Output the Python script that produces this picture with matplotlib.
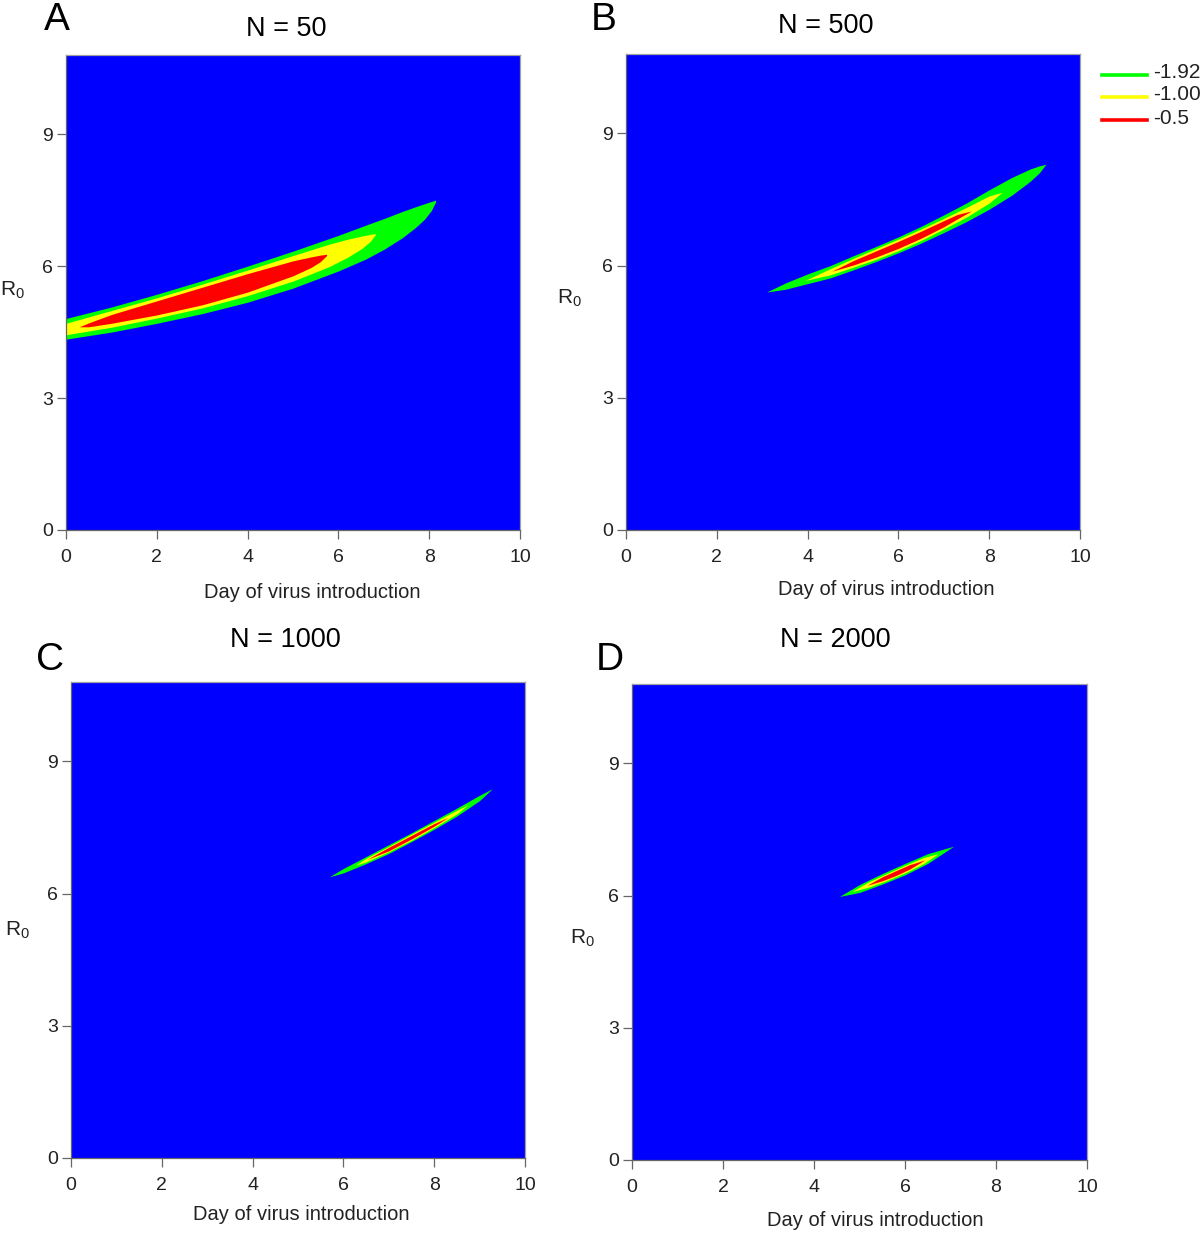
import numpy as np
import matplotlib
matplotlib.use('Agg')
import matplotlib.pyplot as plt
from matplotlib.lines import Line2D

plt.rcParams['font.family'] = ['Liberation Sans', 'DejaVu Sans']
plt.rcParams['mathtext.fontset'] = 'custom'
plt.rcParams['mathtext.rm'] = 'Liberation Sans'
plt.rcParams['mathtext.it'] = 'Liberation Sans'

# ---------------- data: contour regions ----------------
# Each region: day values and the upper / lower R0 boundary at those days.
# Panel A  (N = 50)
A_green_day   = [0.00, 1.00, 2.00, 3.00, 4.00, 5.00, 6.00, 6.60, 7.00, 7.40, 7.70, 7.90, 8.05, 8.14]
A_green_upper = [4.81, 5.07, 5.36, 5.67, 6.00, 6.34, 6.70, 6.93, 7.08, 7.24, 7.35, 7.42, 7.47, 7.50]
A_green_lower = [4.34, 4.50, 4.70, 4.92, 5.18, 5.50, 5.89, 6.16, 6.38, 6.64, 6.88, 7.07, 7.27, 7.46]
A_yellow_day   = [0.00, 1.00, 2.00, 3.00, 4.00, 5.00, 5.80, 6.20, 6.50, 6.70, 6.81]
A_yellow_upper = [4.70, 4.99, 5.28, 5.59, 5.91, 6.24, 6.50, 6.61, 6.68, 6.72, 6.74]
A_yellow_lower = [4.44, 4.61, 4.82, 5.05, 5.33, 5.66, 5.99, 6.20, 6.39, 6.56, 6.71]
A_red_day   = [0.29, 0.50, 1.00, 2.00, 3.00, 4.00, 5.00, 5.40, 5.60, 5.74]
A_red_upper = [4.62, 4.71, 4.90, 5.21, 5.52, 5.83, 6.12, 6.21, 6.25, 6.27]
A_red_lower = [4.62, 4.62, 4.70, 4.89, 5.12, 5.41, 5.78, 5.97, 6.10, 6.24]

# Panel B  (N = 500)
B_green_day   = [3.10, 3.50, 4.00, 4.50, 5.00, 5.50, 6.00, 6.50, 7.00, 7.50, 8.00, 8.50, 8.90, 9.10, 9.25]
B_green_upper = [5.40, 5.60, 5.81, 6.00, 6.22, 6.43, 6.65, 6.89, 7.15, 7.42, 7.72, 8.00, 8.19, 8.26, 8.30]
B_green_lower = [5.40, 5.46, 5.59, 5.72, 5.90, 6.09, 6.29, 6.51, 6.75, 7.00, 7.28, 7.60, 7.91, 8.10, 8.30]
B_yellow_day   = [3.94, 4.50, 5.00, 5.50, 6.00, 6.50, 7.00, 7.50, 8.00, 8.28]
B_yellow_upper = [5.66, 5.93, 6.16, 6.38, 6.60, 6.83, 7.07, 7.32, 7.58, 7.66]
B_yellow_lower = [5.66, 5.79, 5.96, 6.14, 6.34, 6.57, 6.83, 7.10, 7.42, 7.66]
B_red_day   = [4.53, 5.00, 5.50, 6.00, 6.50, 7.00, 7.30, 7.61]
B_red_upper = [5.87, 6.11, 6.33, 6.55, 6.78, 7.02, 7.16, 7.24]
B_red_lower = [5.87, 6.01, 6.19, 6.39, 6.62, 6.88, 7.06, 7.24]

# Panel C  (N = 1000)
C_green_day   = [5.69, 6.00, 6.50, 7.00, 7.50, 8.00, 8.50, 9.00, 9.28]
C_green_upper = [6.38, 6.57, 6.84, 7.11, 7.38, 7.66, 7.94, 8.23, 8.38]
C_green_lower = [6.38, 6.47, 6.68, 6.91, 7.18, 7.46, 7.76, 8.11, 8.38]
C_yellow_day   = [6.26, 6.50, 7.00, 7.50, 8.00, 8.50, 8.75]
C_yellow_upper = [6.64, 6.80, 7.07, 7.35, 7.62, 7.89, 8.02]
C_yellow_lower = [6.64, 6.72, 6.95, 7.21, 7.50, 7.81, 8.02]
C_red_day   = [6.51, 7.00, 7.50, 8.00, 8.31]
C_red_upper = [6.77, 7.05, 7.32, 7.59, 7.73]
C_red_lower = [6.77, 6.97, 7.24, 7.53, 7.73]

# Panel D  (N = 2000)
D_green_day   = [4.56, 5.00, 5.50, 6.00, 6.50, 7.07]
D_green_upper = [5.98, 6.25, 6.50, 6.73, 6.95, 7.12]
D_green_lower = [5.98, 6.07, 6.26, 6.47, 6.73, 7.12]
D_yellow_day   = [4.83, 5.20, 5.60, 6.00, 6.40, 6.73]
D_yellow_upper = [6.09, 6.31, 6.50, 6.685, 6.86, 6.95]
D_yellow_lower = [6.09, 6.19, 6.34, 6.515, 6.72, 6.95]
D_red_day   = [5.16, 5.50, 5.80, 6.10, 6.44]
D_red_upper = [6.23, 6.425, 6.565, 6.70, 6.81]
D_red_lower = [6.23, 6.335, 6.455, 6.60, 6.81]

panel_letters = ['A', 'B', 'C', 'D']
panel_titles = ['N = 50', 'N = 500', 'N = 1000', 'N = 2000']
x_ticks = [0, 2, 4, 6, 8, 10]
y_ticks = [0, 3, 6, 9]
legend_labels = ['-1.92', '-1.00', '-0.5']

# ---------------- styling / layout ----------------
BLUE, GREEN, YELLOW, RED = '#0000FF', '#00FF00', '#FFFF00', '#FF0000'
W, H = 1200, 1233

fig = plt.figure(figsize=(W / 100, H / 100), dpi=100)

def fx(px):
    return px / W

def fy(py):
    return 1 - py / H

# axes pixel boxes: left, right, top, bottom
boxes = [(66, 520, 55, 530), (626, 1080, 54, 530), (71, 525, 682, 1158), (632, 1087, 684, 1160)]

regions = [
    [(A_green_day, A_green_upper, A_green_lower, GREEN),
     (A_yellow_day, A_yellow_upper, A_yellow_lower, YELLOW),
     (A_red_day, A_red_upper, A_red_lower, RED)],
    [(B_green_day, B_green_upper, B_green_lower, GREEN),
     (B_yellow_day, B_yellow_upper, B_yellow_lower, YELLOW),
     (B_red_day, B_red_upper, B_red_lower, RED)],
    [(C_green_day, C_green_upper, C_green_lower, GREEN),
     (C_yellow_day, C_yellow_upper, C_yellow_lower, YELLOW),
     (C_red_day, C_red_upper, C_red_lower, RED)],
    [(D_green_day, D_green_upper, D_green_lower, GREEN),
     (D_yellow_day, D_yellow_upper, D_yellow_lower, YELLOW),
     (D_red_day, D_red_upper, D_red_lower, RED)],
]

letter_pos = [(57, 20), (604, 20), (50, 660), (610, 660)]
title_pos = [(286, 29), (826, 26), (285, 640), (835, 640)]
xlabel_pos = [(312, 593), (886, 590), (301, 1214), (875, 1221)]
r0_pos = [(12, 290), (569, 298), (17, 930), (582, 938)]

for i, (l, r, t, b) in enumerate(boxes):
    ax = fig.add_axes([fx(l), fy(b), (r - l) / W, (b - t) / H])
    ax.set_facecolor(BLUE)
    for day, up, lo, col in regions[i]:
        ax.fill_between(day, lo, up, color=col, linewidth=0, antialiased=True)
    ax.set_xlim(0, 10)
    ax.set_ylim(0, 10.8)
    ax.set_xticks(x_ticks)
    ax.set_yticks(y_ticks)
    ax.tick_params(axis='both', direction='out', length=6.5, width=0.9,
                   color='#666666', labelcolor='#222222')
    ax.tick_params(axis='x', labelsize=14, pad=7)
    ax.tick_params(axis='y', labelsize=14, pad=3)
    for s in ax.spines.values():
        s.set_color('#a0a0a0')
        s.set_linewidth(0.9)
    ax.spines['left'].set_color('#666666')
    ax.spines['bottom'].set_color('#666666')

    fig.text(fx(letter_pos[i][0]), fy(letter_pos[i][1]), panel_letters[i],
             fontsize=28, ha='center', va='center', color='black')
    fig.text(fx(title_pos[i][0]), fy(title_pos[i][1]), panel_titles[i],
             fontsize=19.5, ha='center', va='center', color='black')
    fig.text(fx(xlabel_pos[i][0]), fy(xlabel_pos[i][1]), 'Day of virus introduction',
             fontsize=14.5, ha='center', va='center', color='#222222')
    fig.text(fx(r0_pos[i][0]), fy(r0_pos[i][1]), r'$\mathregular{R_0}$',
             fontsize=15, ha='center', va='center', color='#222222')

# legend (top right)
leg_y = [75, 97, 120]
leg_cols = [GREEN, YELLOW, RED]
for yy, col, lab in zip(leg_y, leg_cols, legend_labels):
    fig.add_artist(Line2D([fx(1102), fx(1147)], [fy(yy), fy(yy)],
                          transform=fig.transFigure, color=col, linewidth=2.6))
    fig.text(fx(1153), fy(yy - 2), lab, fontsize=15, ha='left', va='center',
             color='#222222')

fig.savefig('out.png', dpi=100)
